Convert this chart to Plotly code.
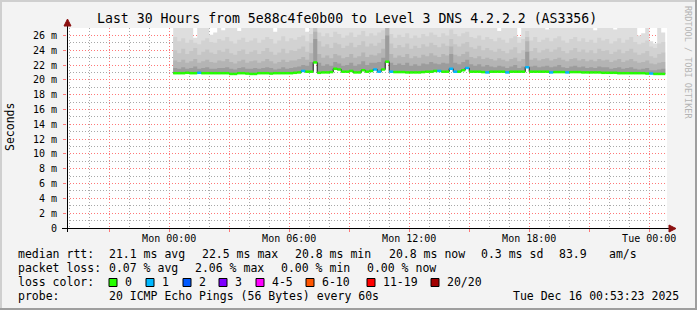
import plotly.graph_objects as go
import pandas as pd

# ---------------- data ----------------
start_time = "2025-12-15 00:12:00"   # first 12-minute column
step_minutes = 12
range_start = "2025-12-14 18:53:23"
range_end = "2025-12-16 00:53:23"

median_ms = [
    20.9, 20.9, 20.9, 20.95, 20.9, 20.9, 20.95, 20.9, 20.9, 20.9,
    20.9, 20.9, 20.9, 20.9, 20.8, 20.8, 20.9, 20.9, 20.85, 20.8,
    20.8, 20.9, 20.9, 20.9, 20.85, 20.9, 20.9, 20.9, 20.9, 20.9,
    20.95, 21.0, 21.2, 21.1, 21.1, 22.35, 20.95, 21.0, 21.0, 21.05,
    21.5, 21.4, 21.1, 21.1, 21.2, 21.0, 21.0, 21.3, 21.1, 21.2,
    21.4, 21.1, 21.4, 22.45, 21.1, 21.05, 21.05, 21.05, 21.0, 21.0,
    21.0, 21.0, 21.05, 21.1, 21.1, 21.2, 21.2, 21.1, 21.1, 21.5,
    21.1, 21.1, 21.3, 21.6, 21.1, 21.1, 21.1, 21.05, 21.0, 21.1,
    21.1, 21.1, 21.1, 21.0, 21.1, 21.1, 21.1, 21.1, 21.7, 21.1,
    21.1, 21.1, 21.1, 21.1, 21.0, 21.05, 21.05, 21.05, 21.0, 21.05,
    21.05, 21.05, 21.0, 21.0, 21.0, 21.0, 21.0, 20.95, 20.95, 20.95,
    20.95, 20.9, 20.9, 20.9, 20.9, 20.9, 20.9, 20.9, 20.85, 20.85,
    20.8, 20.8, 20.8,
]

lost_pings = [
    0, 0, 0, 0, 0, 0, 1, 0, 0, 0,
    0, 0, 0, 0, 0, 0, 0, 0, 0, 0,
    0, 0, 0, 0, 0, 0, 0, 0, 0, 0,
    0, 0, 1, 0, 0, 0, 0, 0, 0, 0,
    0, 0, 0, 0, 0, 0, 0, 0, 0, 0,
    1, 1, 0, 0, 1, 0, 0, 0, 0, 0,
    0, 0, 0, 0, 0, 0, 1, 0, 0, 1,
    1, 0, 0, 1, 0, 0, 0, 0, 1, 0,
    0, 0, 0, 1, 0, 0, 0, 0, 1, 0,
    0, 0, 0, 0, 1, 0, 0, 0, 1, 0,
    0, 0, 0, 0, 0, 0, 0, 0, 0, 0,
    0, 0, 0, 0, 0, 0, 0, 0, 0, 1,
    0, 0, 0,
]

# smoke band tops (ms), outermost (lightest) first
smoke_top_1 = [
    27.5, 27.5, 27.5, 27.5, 27.5, 25.7, 27.5, 27.5, 27.5, 26.1,
    26.4, 27.5, 26.7, 27.5, 27.5, 27.5, 26.6, 27.5, 27.5, 27.5,
    27.5, 27.5, 27.5, 27.5, 27.5, 26.5, 27.5, 27.5, 27.5, 27.5,
    27.5, 27.5, 27.5, 26.5, 27.5, 27.5, 27.5, 27.5, 27.5, 27.5,
    27.5, 27.5, 27.5, 27.5, 27.5, 27.5, 27.5, 27.5, 27.5, 27.5,
    27.5, 27.5, 27.5, 27.5, 27.5, 27.5, 27.5, 27.5, 27.5, 27.5,
    27.5, 27.5, 27.5, 27.5, 27.5, 27.5, 27.5, 27.5, 27.5, 27.5,
    27.5, 27.5, 27.5, 27.5, 27.5, 27.5, 27.5, 27.5, 27.5, 27.5,
    27.5, 26.6, 27.5, 27.5, 27.5, 27.5, 25.8, 27.5, 27.5, 27.5,
    27.5, 27.5, 27.5, 26.8, 27.5, 27.5, 27.5, 27.5, 27.5, 27.5,
    27.5, 27.5, 27.5, 27.5, 27.5, 26.7, 27.5, 27.5, 27.5, 27.5,
    26.8, 27.5, 27.5, 27.5, 27.5, 27.5, 26.0, 26.3, 27.5, 25.2,
    24.9, 27.5, 26.4,
]
smoke_top_2 = [
    25.8, 25.2, 25.6, 25.0, 25.4, 25.0, 24.8, 25.3, 25.6, 25.1,
    25.0, 25.5, 25.3, 25.8, 25.2, 24.9, 25.4, 25.7, 25.1, 25.3,
    25.6, 25.0, 25.4, 25.8, 25.5, 24.9, 25.3, 25.9, 25.2, 25.6,
    25.4, 25.8, 26.0, 25.2, 26.2, 27.5, 26.4, 25.9, 26.3, 25.8,
    26.5, 26.2, 25.7, 26.0, 26.4, 25.8, 26.1, 26.6, 25.9, 26.3,
    26.0, 26.4, 26.7, 27.5, 26.2, 25.7, 26.1, 25.8, 26.3, 25.6,
    26.0, 25.7, 26.2, 25.9, 26.4, 26.1, 25.8, 26.3, 26.0, 26.8,
    26.2, 25.9, 26.3, 26.5, 25.8, 25.6, 26.0, 25.4, 25.8, 25.5,
    25.2, 25.7, 25.4, 25.0, 25.6, 25.9, 25.0, 25.5, 26.6, 25.3,
    25.8, 25.1, 25.4, 25.7, 25.2, 25.6, 25.9, 25.3, 25.0, 25.5,
    25.8, 25.2, 25.6, 25.1, 25.4, 25.0, 25.7, 25.3, 25.5, 24.9,
    25.2, 25.6, 25.0, 25.4, 25.8, 25.1, 24.8, 25.0, 25.3, 24.5,
    24.3, 24.9, 25.1,
]
smoke_top_3 = [
    24.0, 23.6, 24.2, 23.5, 23.9, 24.3, 23.4, 23.8, 24.1, 23.7,
    23.5, 24.0, 23.8, 24.2, 23.6, 23.4, 23.9, 24.1, 23.5, 23.8,
    24.0, 23.5, 23.9, 24.3, 23.8, 23.4, 23.7, 24.2, 23.6, 24.0,
    23.9, 24.2, 24.5, 23.8, 25.0, 27.5, 25.2, 24.5, 24.8, 24.3,
    25.0, 24.8, 24.3, 24.6, 25.0, 24.4, 24.7, 25.2, 24.5, 24.9,
    24.6, 25.0, 25.5, 27.5, 24.9, 24.3, 24.7, 24.4, 24.9, 24.2,
    24.6, 24.3, 24.8, 24.5, 25.0, 24.7, 24.4, 24.9, 24.6, 25.5,
    24.8, 24.5, 24.9, 25.1, 24.4, 24.2, 24.6, 24.0, 24.3, 24.0,
    23.8, 24.2, 23.9, 23.6, 24.1, 24.4, 23.6, 24.0, 25.8, 23.9,
    24.3, 23.7, 24.0, 24.2, 23.8, 24.1, 24.4, 23.9, 23.6, 24.0,
    24.3, 23.8, 24.1, 23.7, 24.0, 23.6, 24.2, 23.9, 24.0, 23.5,
    23.8, 24.1, 23.6, 23.9, 24.2, 23.7, 23.4, 23.6, 23.9, 23.2,
    23.0, 23.5, 23.7,
]
smoke_top_4 = [
    22.6, 22.4, 22.7, 22.3, 22.5, 22.8, 22.3, 22.5, 22.7, 22.4,
    22.3, 22.6, 22.5, 22.8, 22.4, 22.2, 22.5, 22.7, 22.3, 22.5,
    22.6, 22.3, 22.5, 22.8, 22.5, 22.2, 22.4, 22.7, 22.4, 22.6,
    22.6, 22.8, 23.1, 22.7, 23.6, 26.5, 23.5, 23.0, 23.3, 22.9,
    23.5, 23.3, 22.9, 23.1, 23.5, 23.0, 23.2, 23.7, 23.1, 23.4,
    23.3, 23.6, 24.2, 27.5, 23.5, 23.0, 23.3, 23.1, 23.5, 22.9,
    23.2, 23.0, 23.4, 23.2, 23.6, 23.3, 23.1, 23.5, 23.3, 24.5,
    23.4, 23.2, 23.5, 23.8, 23.1, 22.9, 23.2, 22.8, 23.0, 22.8,
    22.6, 22.9, 22.7, 22.5, 22.8, 23.0, 22.5, 22.8, 25.2, 22.7,
    22.9, 22.6, 22.8, 22.9, 22.6, 22.8, 23.0, 22.7, 22.5, 22.8,
    22.9, 22.6, 22.8, 22.5, 22.7, 22.5, 22.8, 22.6, 22.7, 22.4,
    22.6, 22.8, 22.4, 22.6, 22.8, 22.5, 22.3, 22.4, 22.6, 22.2,
    22.1, 22.3, 22.4,
]
smoke_top_5 = [
    21.6, 21.5, 21.7, 21.5, 21.6, 21.8, 21.5, 21.6, 21.7, 21.5,
    21.5, 21.6, 21.6, 21.7, 21.5, 21.4, 21.6, 21.7, 21.5, 21.5,
    21.6, 21.5, 21.6, 21.7, 21.6, 21.4, 21.5, 21.7, 21.5, 21.6,
    21.7, 21.8, 22.0, 21.9, 22.4, 25.5, 22.3, 21.9, 22.1, 21.9,
    22.4, 22.2, 21.9, 22.0, 22.3, 21.9, 22.1, 22.5, 22.0, 22.3,
    22.3, 22.4, 23.0, 26.0, 22.3, 22.0, 22.2, 22.0, 22.3, 21.9,
    22.1, 21.9, 22.2, 22.1, 22.4, 22.2, 22.1, 22.3, 22.2, 23.5,
    22.3, 22.1, 22.4, 22.7, 22.1, 21.9, 22.1, 21.8, 22.0, 21.8,
    21.7, 21.9, 21.8, 21.6, 21.8, 22.0, 21.6, 21.8, 23.8, 21.8,
    21.9, 21.7, 21.8, 21.9, 21.7, 21.8, 22.0, 21.7, 21.6, 21.8,
    21.9, 21.7, 21.8, 21.6, 21.7, 21.6, 21.8, 21.7, 21.7, 21.5,
    21.6, 21.7, 21.5, 21.6, 21.7, 21.5, 21.4, 21.5, 21.6, 21.3,
    21.3, 21.4, 21.5,
]
smoke_colors = ["#dedede", "#d2d2d2", "#c5c5c5", "#b4b4b4", "#9c9c9c"]

y_tick_values = [0, 2, 4, 6, 8, 10, 12, 14, 16, 18, 20, 22, 24, 26]
y_tick_labels = ["0", "2 m", "4 m", "6 m", "8 m", "10 m", "12 m", "14 m",
                 "16 m", "18 m", "20 m", "22 m", "24 m", "26 m"]
y_minor_values = [1, 3, 5, 7, 9, 11, 13, 15, 17, 19, 21, 23, 25, 27]
x_tick_times = ["2025-12-15 00:00", "2025-12-15 06:00", "2025-12-15 12:00",
                "2025-12-15 18:00", "2025-12-16 00:00"]
x_tick_labels = ["Mon 00:00", "Mon 06:00", "Mon 12:00", "Mon 18:00", "Tue 00:00"]

loss_labels = ["0", "1", "2", "3", "4-5", "6-10", "11-19", "20/20"]
loss_colors = ["#26ff00", "#00b8ff", "#0059ff", "#7e00ff", "#ff00ff",
               "#ff5500", "#ff0000", "#a10000"]

title_text = "Last 30 Hours from 5e88c4fe0b00 to Level 3 DNS 4.2.2.2 (AS3356)"
stats_rtt = [("median rtt:", 16), ("21.1 ms avg", 107), ("22.5 ms max", 200),
             ("20.8 ms min", 293), ("20.8 ms now", 387), ("0.3 ms sd", 479),
             ("83.9", 557), ("am/s", 607)]
stats_loss = [("packet loss:", 16), ("0.07 % avg", 107), ("2.06 % max", 193),
              ("0.00 % min", 279), ("0.00 % now", 365)]
probe_text = "20 ICMP Echo Pings (56 Bytes) every 60s"
stamp_text = "Tue Dec 16 00:53:23 2025"

# ---------------- layout geometry ----------------
W, H = 697, 310
PL, PT, PW, PH = 67, 28, 600, 200
MONO = "DejaVu Sans Mono"


def px(x):
    return (x - PL) / PW


def py(y):
    return (PT + PH - y) / PH


n = len(median_ms)
step = pd.Timedelta(minutes=step_minutes)
times = list(pd.date_range(start_time, periods=n, freq=f"{step_minutes}min"))
times_ext = times + [times[-1] + step]


def ext(a):
    return list(a) + [a[-1]]


fig = go.Figure()

# invisible trace that carries the overlay (minor grid) axes
fig.add_trace(go.Scatter(x=[range_start], y=[0], xaxis="x2", yaxis="y2", mode="markers",
                         marker=dict(opacity=0), hoverinfo="skip", showlegend=False))

# smoke
for top, col in zip([smoke_top_1, smoke_top_2, smoke_top_3, smoke_top_4, smoke_top_5],
                    smoke_colors):
    fig.add_trace(go.Scatter(x=times_ext, y=ext(median_ms), mode="lines",
                             line=dict(width=0, shape="hv"), hoverinfo="skip",
                             showlegend=False))
    fig.add_trace(go.Scatter(x=times_ext, y=ext(top), mode="lines", fill="tonexty",
                             fillcolor=col, line=dict(width=0, shape="hv"),
                             hoverinfo="skip", showlegend=False))

# median thin connector
fig.add_trace(go.Scatter(x=times_ext, y=ext(median_ms), mode="lines",
                         line=dict(color="#202020", width=1, shape="hv"),
                         showlegend=False, hoverinfo="skip"))

# colored median segments by loss
for li, col in enumerate(loss_colors[:2]):
    xs, ys = [], []
    for k in range(n):
        if lost_pings[k] == li:
            xs += [times[k], times[k] + step, None]
            ys += [median_ms[k], median_ms[k], None]
    fig.add_trace(go.Scatter(x=xs, y=ys, mode="lines",
                             line=dict(color=col, width=2.5),
                             showlegend=False, hoverinfo="skip"))

# gridline positions
major_x = list(pd.date_range("2025-12-14 21:00", "2025-12-16 00:00", freq="3h"))
minor_x = [t for t in pd.date_range("2025-12-14 19:00", "2025-12-16 00:00", freq="1h")
           if t.hour % 3 != 0]
major_text = []
for t in major_x:
    s = t.strftime("%Y-%m-%d %H:%M")
    major_text.append(x_tick_labels[x_tick_times.index(s)] if s in x_tick_times else "")

RED = "#ff7878"
GRAY = "#a8a8a8"
TICKRED = "#ff7878"

fig.update_layout(
    width=W, height=H,
    margin=dict(l=PL, r=W - PL - PW, t=PT, b=H - PT - PH, pad=0),
    paper_bgcolor="#f3f3f3", plot_bgcolor="#ffffff",
    showlegend=False,
    xaxis=dict(type="date", range=[range_start, range_end],
               tickmode="array", tickvals=major_x, ticktext=major_text,
               showgrid=True, gridcolor=RED, gridwidth=1, griddash="1px,2px",
               ticks="outside", ticklen=3, tickcolor=TICKRED,
               ticklabelstandoff=-2,
               zeroline=False, showline=False, fixedrange=True,
               tickfont=dict(family=MONO, size=10, color="#000000")),
    yaxis=dict(range=[0, 27], tickmode="array", tickvals=y_tick_values,
               ticktext=y_tick_labels,
               showgrid=True, gridcolor=RED, gridwidth=1, griddash="1px,2px",
               ticks="outside", ticklen=3, tickcolor=TICKRED, ticklabelstandoff=4,
               zeroline=False, showline=False, fixedrange=True,
               tickfont=dict(family=MONO, size=10, color="#000000")),
    xaxis2=dict(type="date", range=[range_start, range_end], overlaying="x",
                tickmode="array", tickvals=minor_x, showticklabels=False,
                showgrid=True, gridcolor=GRAY, gridwidth=1, griddash="1px,2px",
                ticks="", zeroline=False, showline=False, fixedrange=True),
    yaxis2=dict(range=[0, 27], overlaying="y", tickmode="array", tickvals=y_minor_values,
                showticklabels=False, showgrid=True, gridcolor=GRAY, gridwidth=1,
                griddash="1px,2px", ticks="", zeroline=False, showline=False,
                fixedrange=True),
)

shapes = []
# frame
shapes.append(dict(type="rect", xref="paper", yref="paper", x0=px(0), x1=px(W), y0=py(0), y1=py(2),
                   fillcolor="#cfcfcf", line=dict(width=0), layer="above"))
shapes.append(dict(type="rect", xref="paper", yref="paper", x0=px(0), x1=px(2), y0=py(0), y1=py(H),
                   fillcolor="#cfcfcf", line=dict(width=0), layer="above"))
shapes.append(dict(type="rect", xref="paper", yref="paper", x0=px(W - 2), x1=px(W), y0=py(0), y1=py(H),
                   fillcolor="#9e9e9e", line=dict(width=0), layer="above"))
shapes.append(dict(type="rect", xref="paper", yref="paper", x0=px(0), x1=px(W), y0=py(H - 2), y1=py(H),
                   fillcolor="#9e9e9e", line=dict(width=0), layer="above"))
# axis lines + arrows
shapes.append(dict(type="line", xref="paper", yref="paper", x0=px(62), x1=px(670),
                   y0=py(228.5), y1=py(228.5), line=dict(color="#000000", width=1), layer="above"))
shapes.append(dict(type="line", xref="paper", yref="paper", x0=px(67.5), x1=px(67.5),
                   y0=py(232), y1=py(24), line=dict(color="#000000", width=1), layer="above"))
shapes.append(dict(type="path", xref="paper", yref="paper",
                   path=f"M {px(64)} {py(26)} L {px(71)} {py(26)} L {px(67.5)} {py(19)} Z",
                   fillcolor="#8b1010", line=dict(color="#8b1010", width=1), layer="above"))
shapes.append(dict(type="path", xref="paper", yref="paper",
                   path=f"M {px(669)} {py(225)} L {px(669)} {py(232)} L {px(676)} {py(228.5)} Z",
                   fillcolor="#8b1010", line=dict(color="#8b1010", width=1), layer="above"))

annotations = []


def text(x, y, s, size=11.5, anchor="left", color="#000000", angle=0):
    annotations.append(dict(x=px(x), y=py(y), xref="paper", yref="paper", text=s,
                            showarrow=False, xanchor=anchor, yanchor="middle",
                            textangle=angle,
                            font=dict(family=MONO, size=size, color=color)))


text(347, 18.5, title_text, size=13.2, anchor="center")
text(10, 127, "Seconds", size=11.5, anchor="center", angle=-90)
text(688, 62, "RRDTOOL / TOBI OETIKER", size=8.5, anchor="center", color="#b4b4b4", angle=90)

for s, x in stats_rtt:
    text(x, 254, s)
for s, x in stats_loss:
    text(x, 268, s)
text(16, 282, "loss color:")
box_x = [109, 146, 183, 219, 256, 306, 367, 431]
for lab, col, bx in zip(loss_labels, loss_colors, box_x):
    shapes.append(dict(type="rect", xref="paper", yref="paper", x0=px(bx), x1=px(bx + 8),
                       y0=py(286.5), y1=py(278.5), fillcolor=col,
                       line=dict(color="#000000", width=1), layer="above"))
    text(bx + 14, 282, lab)
text(16, 296, "probe:")
text(107, 296, probe_text)
text(681, 296, stamp_text, anchor="right")

fig.update_layout(shapes=shapes, annotations=annotations)
fig.write_html("out.html")
